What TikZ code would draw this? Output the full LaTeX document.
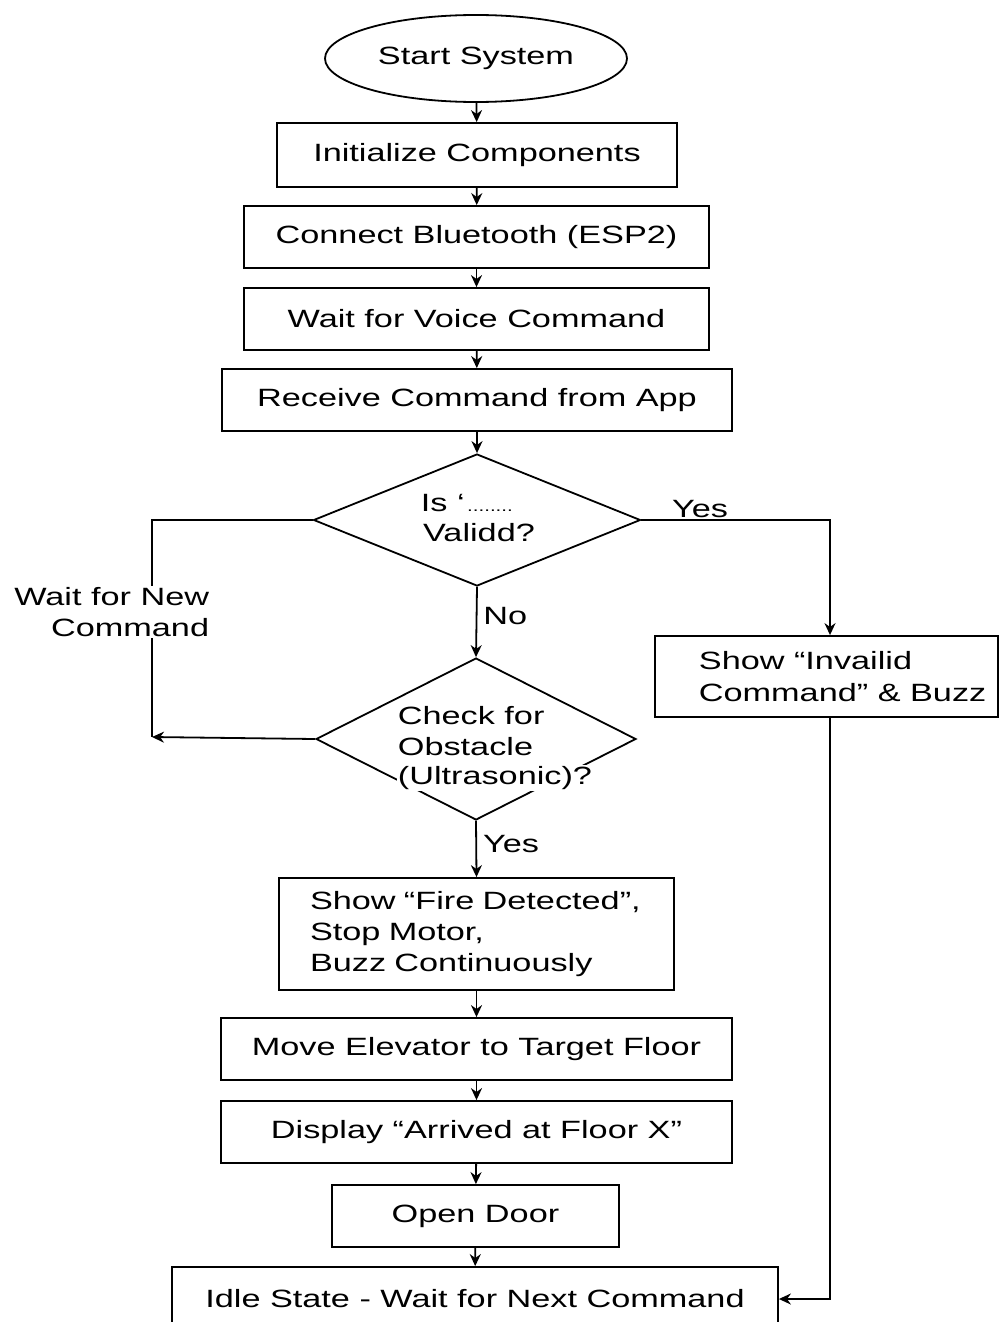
\documentclass[tikz,border=0pt]{standalone}
\usepackage{fontspec}
\setmainfont[FakeStretch=1.37]{Liberation Sans}
\usetikzlibrary{shapes.geometric,arrows.meta}
\begin{document}
\begin{tikzpicture}[x=1pt,y=-1pt,
  font=\fontsize{25}{31}\selectfont, line width=1.8pt,
  box/.style={draw, rectangle, inner sep=0pt, align=center},
  dia/.style={draw, diamond, inner sep=0pt},
  lbl/.style={inner sep=1pt},
  arr/.style={-{Stealth[length=12pt,width=11pt]}}]
\useasboundingbox (0,0) rectangle (999,1322);

\node[draw, ellipse, inner sep=0pt, minimum width=302, minimum height=87] (start) at (476,58.5) {Start System};
\node[box, minimum width=400, minimum height=64] (init) at (477,155) {Initialize Components};
\node[box, minimum width=465, minimum height=62] (bt) at (476.5,237) {Connect Bluetooth (ESP2)};
\node[box, minimum width=465, minimum height=62] (wait) at (476.5,319) {Wait for Voice Command};
\node[box, minimum width=510, minimum height=62] (recv) at (477,400) {Receive Command from App};

\node[dia, minimum width=327, minimum height=132] (d1) at (477,520) {};
\node[lbl, anchor=west] (d1t1) at (419,503) {Is ‘{\fontsize{15}{15}\selectfont\,........}};
\node[lbl] (d1t2) at (479,533) {Validd?};

\node[dia, minimum width=320, minimum height=162] (d2) at (476,739) {};
\node[lbl, fill=white, anchor=west] (d2t1) at (396,716) {Check for};
\node[lbl, fill=white, anchor=west] (d2t2) at (396,747) {Obstacle};
\node[lbl, fill=white, anchor=west] (d2t3) at (396,778) {(Ultrasonic)?};

\node[box, minimum width=395, minimum height=112, align=left, text width=333, inner xsep=31pt] (fire) at (476.5,934) {Show “Fire Detected”,\\Stop Motor,\\Buzz Continuously};
\node[box, minimum width=511, minimum height=62] (move) at (476.5,1049) {Move Elevator to Target Floor};
\node[box, minimum width=511, minimum height=62] (disp) at (476.5,1132) {Display “Arrived at Floor X”};
\node[box, minimum width=287, minimum height=62] (door) at (475.5,1216) {Open Door};
\node[box, minimum width=606, minimum height=64] (idle) at (475,1299) {Idle State - Wait for Next Command};

\node[box, minimum width=343, minimum height=81] (inv) at (826.5,676.5) {};
\node[lbl, anchor=west, align=left, font=\fontsize{25}{32}\selectfont] (invt) at (697,676.5) {Show “Invailid\\Command” \& Buzz};

% vertical chain
\draw[arr] (start) -- (init);
\draw[arr] (init) -- (bt);
\draw[arr] (bt) -- (wait);
\draw[arr] (wait) -- (recv);
\draw[arr] (recv) -- (d1);
\draw[arr] (d1.south) -- node[lbl, right=5pt, pos=0.42] (no) {No} (d2.north);
\draw[arr] (d2.south) -- node[lbl, right=5pt, pos=0.42] (yes2) {Yes} (fire.north);
\draw[arr] (fire) -- (move);
\draw[arr] (move) -- (disp);
\draw[arr] (disp) -- (door);
\draw[arr] (door) -- (idle);

% left loop
\coordinate (lc) at (152,737);
\draw (d1.west) -| (lc);
\draw[arr] (d2.west) -- (lc);
\node[lbl, fill=white, align=right, anchor=east] (wnew) at (211,612) {Wait for New\\Command};

% right branch
\draw[arr] (d1.east) -| ([xshift=3.5pt]inv.north);
\node[lbl] (yes1) at (700,509) {Yes};
\draw[arr] ([xshift=3.5pt]inv.south) |- (idle.east);
\end{tikzpicture}
\end{document}
